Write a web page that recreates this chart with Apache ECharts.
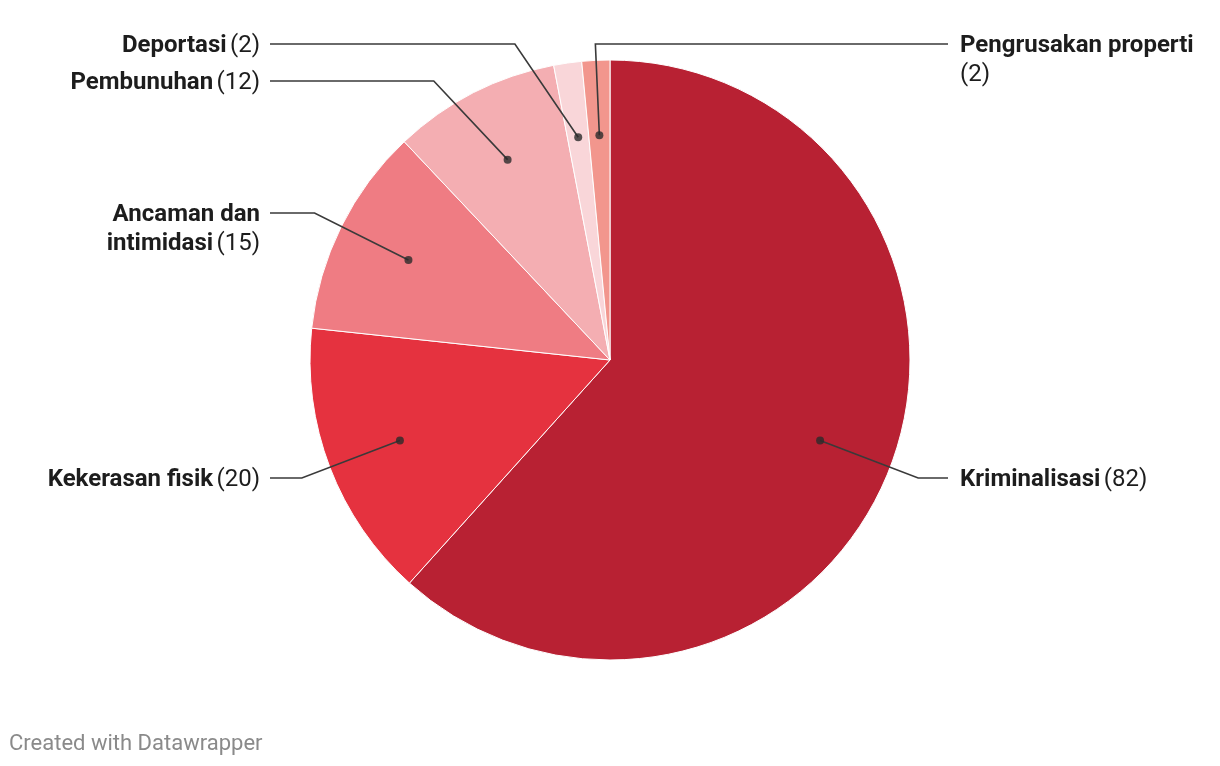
<!DOCTYPE html>
<html>
<head>
<meta charset="utf-8">
<script src="https://cdn.jsdelivr.net/npm/echarts@6/dist/echarts.min.js"></script>
<style>
html,body{margin:0;padding:0;background:#fff;}
#chart{width:1220px;height:766px;}
</style>
</head>
<body>
<div id="chart"></div>
<script>
// ---- data ----
const categories = ['Kriminalisasi', 'Kekerasan fisik', 'Ancaman dan intimidasi', 'Pembunuhan', 'Deportasi', 'Pengrusakan properti'];
const labelNames = ['Kriminalisasi', 'Kekerasan fisik', 'Ancaman dan\nintimidasi', 'Pembunuhan', 'Deportasi', 'Pengrusakan properti\n'];
const values = [82, 20, 15, 12, 2, 2];
const colors = ['#b82133', '#e5323f', '#ef7c83', '#f4aeb2', '#f9d6d9', '#f2968d'];

// ---- layout (not data) ----
const CX = 610, CY = 360, R = 300, DOT_R = 225, ELBOW_R = 330, LINE_H = 29, FONT = 24;
// label side and the y-centre of the first text line
const labelSide = ['right', 'left', 'left', 'left', 'left', 'right'];
const labelY = [478, 478, 213, 81, 44, 44];
const LEFT_X = 260, RIGHT_X = 960;

const total = values.reduce((a, b) => a + b, 0);
const mids = [];
let acc = 0;
values.forEach(v => { mids.push(acc + v / 2); acc += v; });

const chart = echarts.init(document.getElementById('chart'), null, {renderer: 'canvas'});

function richText(i) {
  const parts = labelNames[i].split('\n');
  const val = '(' + values[i] + ')';
  if (parts.length === 1) return '{b|' + parts[0] + '} {v|' + val + '}';
  if (parts[1] === '') return '{b|' + parts[0] + '}\n{v|' + val + '}';
  return '{b|' + parts[0] + '}\n{b|' + parts[1] + '} {v|' + val + '}';
}

const pieData = categories.map((c, i) => ({name: c, value: values[i], itemStyle: {color: colors[i]}}));

const option = {
  animation: false,
  backgroundColor: '#ffffff',
  title: {
    text: 'Created with Datawrapper',
    left: 4, top: 728,
    textStyle: {fontFamily: 'Roboto', fontSize: 22, fontWeight: 'normal', color: '#8a8a8a'}
  },
  polar: {center: [CX, CY], radius: R},
  angleAxis: {type: 'value', min: 0, max: total, startAngle: 90, clockwise: true, show: false},
  radiusAxis: {type: 'value', min: 0, max: R / DOT_R * 3, show: false},
  series: [
    {
      type: 'pie',
      center: [CX, CY],
      radius: [0, R],
      startAngle: 90,
      clockwise: true,
      z: 2,
      silent: true,
      itemStyle: {borderColor: '#ffffff', borderWidth: 1},
      data: pieData,
      label: {show: false},
      labelLine: {show: false}
    },
    {
      // transparent overlay carrying labels and leader lines above the slices
      type: 'pie',
      center: [CX, CY],
      radius: [0, R],
      startAngle: 90,
      clockwise: true,
      avoidLabelOverlap: false,
      z: 4,
      silent: true,
      itemStyle: {color: 'rgba(0,0,0,0)', borderWidth: 0},
      data: categories.map((c, i) => ({name: c, value: values[i]})),
      label: {
        show: true,
        position: 'outside',
        formatter: p => richText(p.dataIndex),
        rich: {
          b: {fontFamily: 'Roboto', fontSize: FONT, fontWeight: 'bold', color: '#1d1d1d', lineHeight: LINE_H},
          v: {fontFamily: 'Roboto', fontSize: FONT, fontWeight: 'normal', color: '#1d1d1d', lineHeight: LINE_H}
        }
      },
      labelLine: {show: true, length: 20, length2: 20, smooth: false, lineStyle: {color: '#3a3a3a', width: 1.6}},
      labelLayout: function (params) {
        const i = params.dataIndex;
        const side = labelSide[i];
        const ly = labelY[i];
        const ang = Math.PI / 2 - mids[i] / total * 2 * Math.PI;
        const dot = [CX + DOT_R * Math.cos(ang), CY - DOT_R * Math.sin(ang)];
        const dy = ly - CY;
        const ex = Math.sqrt(Math.max(ELBOW_R * ELBOW_R - dy * dy, 0));
        let elbowX = side === 'right' ? CX + ex : CX - ex;
        if (side === 'right' && dot[0] < CX) elbowX = dot[0] - 4;
        const endX = side === 'right' ? RIGHT_X - 12 : LEFT_X + 10;
        return {
          x: side === 'right' ? RIGHT_X : LEFT_X,
          y: ly - LINE_H / 2 + 1.5,
          align: side === 'right' ? 'left' : 'right',
          verticalAlign: 'top',
          labelLinePoints: [dot, [elbowX, ly], [endX, ly]]
        };
      }
    },
    {
      type: 'scatter',
      coordinateSystem: 'polar',
      z: 6,
      silent: true,
      symbol: 'circle',
      symbolSize: 8,
      itemStyle: {color: '#2b2b2b'},
      data: mids.map(m => [3, m])
    }
  ]
};
chart.setOption(option);
</script>
</body>
</html>
